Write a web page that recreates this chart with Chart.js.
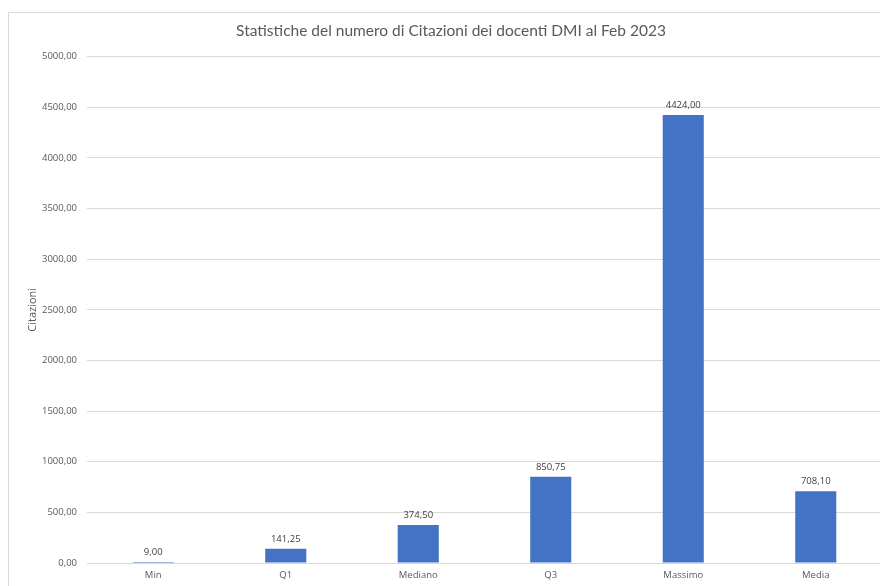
<!DOCTYPE html>
<html>
<head>
<meta charset="utf-8">
<script src="https://cdn.jsdelivr.net/npm/chart.js@4.4.1/dist/chart.umd.min.js"></script>
<style>
  html, body { margin: 0; padding: 0; background: #fff; overflow: hidden; }
  #wrap { width: 900px; height: 600px; }
</style>
</head>
<body>
<div id="wrap"><canvas id="myChart" width="900" height="600"></canvas></div>
<script>
const categories = ['Min', 'Q1', 'Mediano', 'Q3', 'Massimo', 'Media'];
const citazioni = [9.00, 141.25, 374.50, 850.75, 4424.00, 708.10];
const yTicks = [0, 500, 1000, 1500, 2000, 2500, 3000, 3500, 4000, 4500, 5000];

const grey = '#595959';
const fmt = v => v.toFixed(2).replace('.', ',');

// bordo esterno del grafico
const frame = {
  id: 'frame',
  beforeDraw(chart) {
    const ctx = chart.ctx;
    ctx.save();
    ctx.strokeStyle = '#d9d9d9';
    ctx.lineWidth = 1;
    ctx.strokeRect(8.5, 12.5, 886, 640);
    ctx.restore();
  }
};

// etichette dei valori sopra le barre
const valueLabels = {
  id: 'valueLabels',
  afterDatasetsDraw(chart) {
    const ctx = chart.ctx;
    const meta = chart.getDatasetMeta(0);
    ctx.save();
    ctx.font = '9.5px "Open Sans"';
    ctx.fillStyle = '#404040';
    ctx.textAlign = 'center';
    ctx.textBaseline = 'bottom';
    meta.data.forEach((bar, i) => {
      ctx.fillText(fmt(citazioni[i]), bar.x, bar.y - 5);
    });
    ctx.restore();
  }
};

const ctx = document.getElementById('myChart').getContext('2d');
new Chart(ctx, {
  type: 'bar',
  data: {
    labels: categories,
    datasets: [{
      data: citazioni,
      backgroundColor: '#4472c4',
      categoryPercentage: 1,
      barPercentage: 0.31
    }]
  },
  options: {
    responsive: false,
    animation: false,
    layout: { padding: { left: 20, right: 18, top: 0, bottom: 0 } },
    plugins: {
      legend: { display: false },
      tooltip: { enabled: false },
      title: {
        display: true,
        text: 'Statistiche del numero di Citazioni dei docenti DMI al Feb 2023',
        color: grey,
        font: { family: 'Lato', size: 15.5, weight: 'normal' },
        padding: { top: 22, bottom: 16 }
      }
    },
    scales: {
      x: {
        grid: { display: false, drawTicks: false },
        border: { display: false },
        ticks: { color: grey, font: { family: 'Open Sans', size: 9.5 }, padding: 7 },
        afterFit(scale) { scale.height = 37; }
      },
      y: {
        min: 0,
        max: 5000,
        afterBuildTicks(scale) { scale.ticks = yTicks.map(v => ({ value: v })); },
        grid: { color: '#d9d9d9', drawTicks: false },
        border: { display: false },
        ticks: {
          color: grey,
          font: { family: 'Open Sans', size: 9.5 },
          padding: 10,
          callback: v => fmt(v)
        },
        title: {
          display: true,
          text: 'Citazioni',
          color: grey,
          font: { family: 'Open Sans', size: 11 },
          padding: { top: 6, bottom: 0 }
        },
        afterFit(scale) { scale.width = 67; }
      }
    }
  },
  plugins: [frame, valueLabels]
});
</script>
</body>
</html>
